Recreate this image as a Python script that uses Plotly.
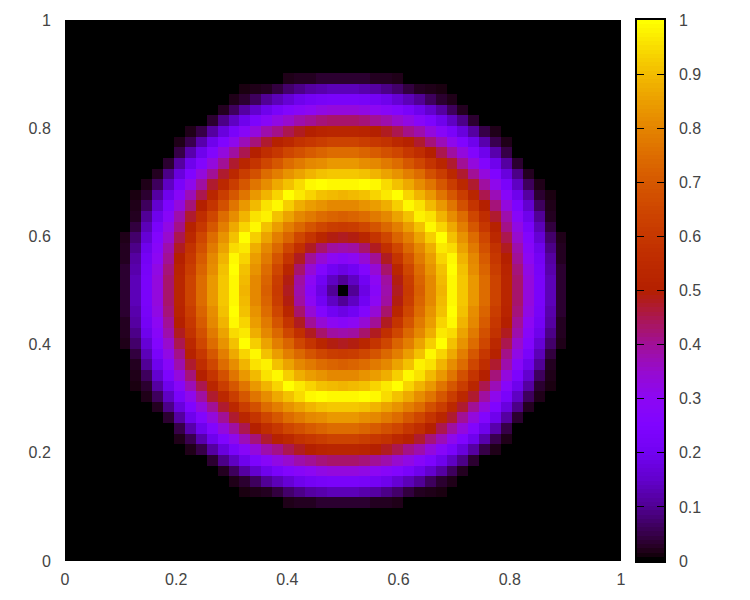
import plotly.graph_objects as go

# values, one quadrant: row = cells up from centre, col = cells right of centre
# the picture is symmetric so the other quadrants are mirrored, cells not listed are 0
quadrant = [
    [0, .10, .18, .28, .38, .48, .61, .72, .81, .89, .99, .92, .84, .75, .64, .53, .43, .33, .23, .13, .03],
    [.10, .14, .20, .30, .39, .49, .62, .73, .81, .90, .99, .92, .84, .75, .64, .53, .43, .33, .23, .13, .03],
    [.18, .20, .26, .34, .43, .53, .65, .75, .83, .91, 1.0, .91, .82, .73, .62, .52, .42, .32, .22, .12, .03],
    [.28, .30, .34, .40, .48, .59, .69, .78, .85, .94, .99, .89, .81, .71, .60, .50, .40, .30, .21, .11, .02],
    [.38, .39, .43, .48, .57, .65, .74, .81, .88, .97, .95, .86, .78, .68, .58, .48, .38, .28, .19, .09, .02],
    [.48, .49, .53, .59, .65, .73, .79, .86, .93, 1.0, .91, .83, .75, .65, .54, .45, .35, .26, .16, .07, .015],
    [.61, .62, .65, .69, .74, .79, .85, .91, .99, .94, .87, .79, .70, .60, .51, .41, .32, .23, .13, .04],
    [.72, .73, .75, .78, .81, .86, .91, .98, .96, .89, .82, .75, .65, .56, .47, .38, .28, .19, .10, .02],
    [.81, .81, .83, .85, .88, .93, .99, .96, .90, .84, .77, .68, .59, .50, .42, .33, .24, .15, .06, .015],
    [.89, .90, .91, .94, .97, 1.0, .94, .89, .84, .77, .70, .62, .53, .45, .37, .28, .19, .11, .03, .01],
    [.99, .99, 1.0, .99, .95, .91, .87, .82, .77, .70, .62, .54, .47, .39, .31, .23, .14, .06, .015],
    [.92, .92, .91, .89, .86, .83, .79, .75, .68, .62, .54, .47, .40, .33, .25, .17, .09, .02],
    [.84, .84, .82, .81, .78, .75, .70, .65, .59, .53, .47, .40, .33, .26, .19, .11, .03],
    [.75, .75, .73, .71, .68, .65, .60, .56, .50, .45, .39, .33, .26, .19, .12, .045],
    [.64, .64, .62, .60, .58, .54, .51, .47, .42, .37, .31, .25, .19, .12, .05, .015],
    [.53, .53, .52, .50, .48, .45, .41, .38, .33, .28, .23, .17, .11, .045, .015],
    [.43, .43, .42, .40, .38, .35, .32, .28, .24, .19, .14, .09, .03],
    [.33, .33, .32, .30, .28, .26, .23, .19, .15, .11, .06, .02],
    [.23, .23, .22, .21, .19, .16, .13, .10, .06, .03, .015],
    [.13, .13, .12, .11, .09, .07, .04, .02, .015, .01],
    [.03, .03, .03, .02, .02, .015],
]

palette_levels = [0, .01, .025, .05, .1, .15, .2, .25, .3, .35, .4, .45, .5, .55, .6, .65, .7, .75, .8, .85, .9, .95, 1]
palette_colors = [
    "rgb(0,0,0)", "rgb(26,0,16)", "rgb(40,0,40)", "rgb(57,0,79)", "rgb(81,0,150)", "rgb(99,1,206)",
    "rgb(114,2,243)", "rgb(128,4,255)", "rgb(140,7,243)", "rgb(151,11,206)", "rgb(161,16,150)",
    "rgb(171,23,79)", "rgb(180,32,0)", "rgb(189,42,0)", "rgb(198,55,0)", "rgb(206,70,0)", "rgb(213,87,0)",
    "rgb(221,108,0)", "rgb(228,131,0)", "rgb(235,157,0)", "rgb(242,186,0)", "rgb(249,219,0)", "rgb(255,255,0)",
]
axis_ticks = [0, 0.2, 0.4, 0.6, 0.8, 1]
axis_labels = ["0", "0.2", "0.4", "0.6", "0.8", "1"]
cbar_ticks = [0, 0.1, 0.2, 0.3, 0.4, 0.5, 0.6, 0.7, 0.8, 0.9, 1]
cbar_labels = ["0", "0.1", "0.2", "0.3", "0.4", "0.5", "0.6", "0.7", "0.8", "0.9", "1"]

n_side = 26
upper = []
for row in quadrant + [[]] * (n_side - len(quadrant)):
    full = row + [0] * (n_side - len(row))
    upper.append(full[:0:-1] + full)
z = upper[:0:-1] + upper

n_cells = len(z)
cell = 1 / n_cells
colorscale = list(zip(palette_levels, palette_colors))

cbar_steps = 128
cbar_z = [[i / (cbar_steps - 1)] for i in range(cbar_steps)]

fig = go.Figure()
fig.add_trace(go.Heatmap(z=z, x0=cell / 2, dx=cell, y0=cell / 2, dy=cell,
                         colorscale=colorscale, zmin=0, zmax=1, showscale=False,
                         xaxis="x", yaxis="y"))
fig.add_trace(go.Heatmap(z=cbar_z, x0=0, dx=1, y0=0.5 / cbar_steps, dy=1 / cbar_steps,
                         colorscale=colorscale, zmin=0, zmax=1, showscale=False,
                         xaxis="x2", yaxis="y2"))

font = dict(family="Liberation Sans", size=16, color="#444444")
fig.update_layout(
    template="none",
    width=750, height=600,
    margin=dict(l=57, r=94, t=12, b=47, pad=0),
    paper_bgcolor="white", plot_bgcolor="black",
    font=font, showlegend=False,
    xaxis=dict(domain=[0, 556 / 599], range=[0, 1], tickvals=axis_ticks, ticktext=axis_labels,
               ticks="outside", ticklen=4, tickcolor="white", showgrid=False, zeroline=False,
               showline=False, anchor="y", automargin=False),
    yaxis=dict(range=[0, 1], tickvals=axis_ticks, ticktext=axis_labels,
               ticks="outside", ticklen=10, tickcolor="white", showgrid=False, zeroline=False,
               showline=False, anchor="x", automargin=False),
    xaxis2=dict(domain=[572 / 599, 1], range=[-0.5, 0.5], showticklabels=False, ticks="",
                showgrid=False, zeroline=False, showline=True, linecolor="black", linewidth=1.5,
                mirror=True, anchor="y2", automargin=False),
    yaxis2=dict(range=[0, 1], side="right", tickvals=cbar_ticks, ticktext=cbar_labels,
                ticks="inside", ticklen=7, tickcolor="black", tickwidth=1, showgrid=False,
                zeroline=False, showline=True, linecolor="black", linewidth=1.5,
                mirror="ticks", anchor="x2", automargin=False, ticklabelstandoff=10),
)

fig.write_html("out.html")
